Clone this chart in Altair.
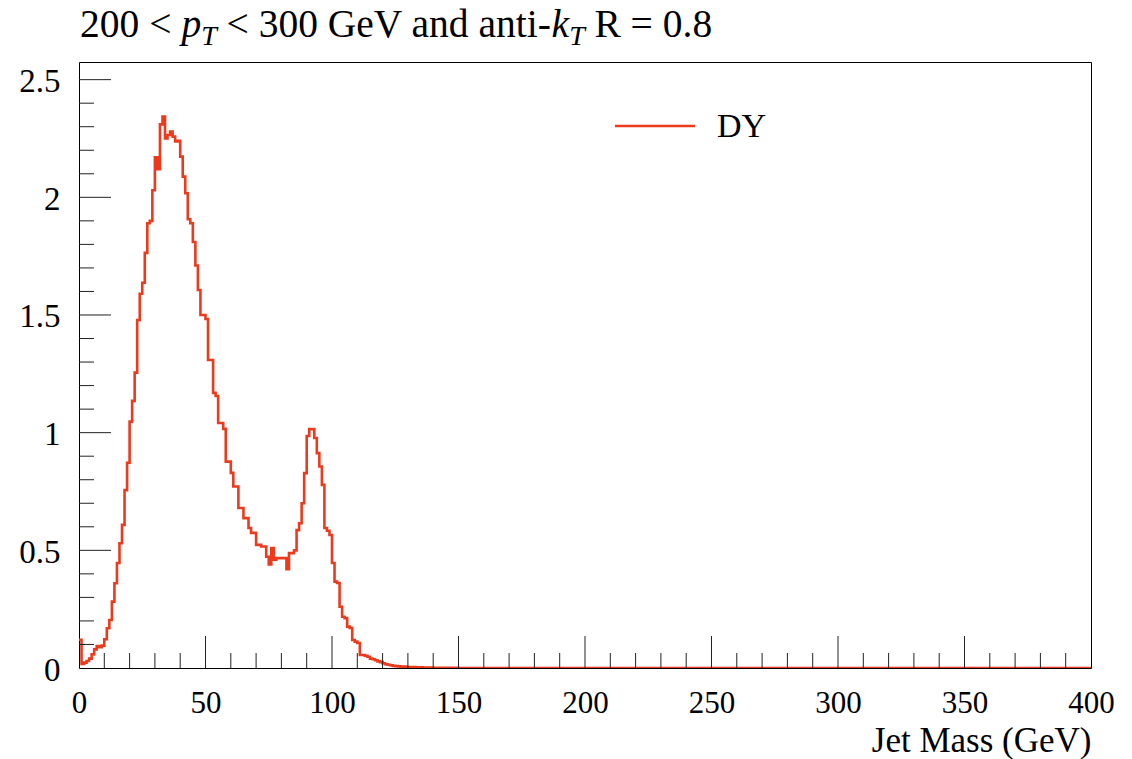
import altair as alt
import pandas as pd

# ---------------- data ----------------
# DY jet-mass histogram, 1 GeV bins starting at 0 GeV
dy_values = [
    0.120, 0.017, 0.023, 0.030, 0.040, 0.058, 0.079, 0.093, 0.088, 0.095,   # 0-9
    0.122, 0.169, 0.204, 0.282, 0.360, 0.446, 0.530, 0.608, 0.756, 0.872,   # 10-19
    1.047, 1.135, 1.255, 1.479, 1.590, 1.637, 1.764, 1.890, 1.900, 2.030,   # 20-29
    2.170, 2.120, 2.310, 2.343, 2.250, 2.265, 2.280, 2.258, 2.237, 2.240,   # 30-39
    2.173, 2.088, 2.017, 1.907, 1.890, 1.810, 1.710, 1.606, 1.500, 1.500,   # 40-49
    1.483, 1.309, 1.309, 1.169, 1.156, 1.041, 1.041, 1.016, 0.877, 0.877,   # 50-59
    0.829, 0.771, 0.771, 0.680, 0.680, 0.637, 0.637, 0.595, 0.574, 0.574,   # 60-69
    0.523, 0.523, 0.516, 0.516, 0.473, 0.440, 0.510, 0.460, 0.467, 0.467,   # 70-79
    0.467, 0.467, 0.420, 0.488, 0.488, 0.500, 0.586, 0.615, 0.700, 0.828,   # 80-89
    0.986, 1.015, 1.015, 0.977, 0.913, 0.856, 0.778, 0.595, 0.583, 0.565,   # 90-99
    0.446, 0.367, 0.361, 0.260, 0.218, 0.212, 0.176, 0.170, 0.119, 0.112,   # 100-109
    0.106, 0.055, 0.055, 0.052, 0.048, 0.040, 0.037, 0.033, 0.028, 0.025,   # 110-119
    0.020, 0.016, 0.014, 0.012, 0.009, 0.008, 0.007, 0.006, 0.006, 0.005,   # 120-129
    0.004, 0.004, 0.004, 0.003, 0.003, 0.003, 0.002, 0.002, 0.002, 0.002,   # 130-139
    0.001, 0.001, 0.001, 0.001, 0.001, 0.001, 0.001, 0.001, 0.001, 0.001,   # 140-149
]
bin_lo = list(range(len(dy_values)))          # lower bin edges (GeV)
tail_x = [150, 400]                           # empty bins to the end of the range
tail_y = [0.0, 0.0]

x_labels = [0, 50, 100, 150, 200, 250, 300, 350, 400]
x_major = [50, 100, 150, 200, 250, 300, 350]
x_minor = [10, 20, 30, 40, 60, 70, 80, 90, 110, 120, 130, 140, 160, 170, 180, 190,
           210, 220, 230, 240, 260, 270, 280, 290, 310, 320, 330, 340, 360, 370, 380, 390]
y_labels = [0, 0.5, 1.0, 1.5, 2.0, 2.5]
y_major = [0.5, 1.0, 1.5, 2.0, 2.5]
y_minor = [0.1, 0.2, 0.3, 0.4, 0.6, 0.7, 0.8, 0.9, 1.1, 1.2, 1.3, 1.4,
           1.6, 1.7, 1.8, 1.9, 2.1, 2.2, 2.3, 2.4]

title_parts = ["200 <", "p", "T", "< 300 GeV and anti-", "k", "T", "R = 0.8"]
legend_label = "DY"
x_title = "Jet Mass (GeV)"

# ---------------- layout / style ----------------
W, H = 1012, 606
FONT = "Liberation Serif"
RED = "#EE3A1C"
title_style = [  # (x, y, size, style) per title part, relative to plot origin
    (1, -25, 39.5, "normal"),
    (102.5, -25, 39.5, "italic"),
    (122.3, -17, 28, "italic"),
    (147.5, -25, 39.5, "normal"),
    (472.6, -25, 39.5, "italic"),
    (490.2, -17, 28, "italic"),
    (515.4, -25, 39.5, "normal"),
]

xs = alt.Scale(domain=[0, 400], nice=False, zero=False)
ys = alt.Scale(domain=[0, 2.575], nice=False, zero=False)

X_AXIS = alt.Axis(
    values=x_labels, format="d", ticks=False, tickSize=0, domain=False, grid=False,
    labelFont=FONT, labelFontSize=31, labelColor="black", labelPadding=20,
    labelFlush=False, labelOverlap=False,
    title=x_title, titleFont=FONT, titleFontSize=35, titleFontWeight="normal",
    titleColor="black", titleX=W, titleY=83, titleAlign="right",
    titleBaseline="alphabetic", titleAnchor="end")
Y_AXIS = alt.Axis(
    values=y_labels, format="~g", ticks=False, tickSize=0, domain=False, grid=False,
    labelFont=FONT, labelFontSize=33, labelColor="black", labelPadding=19,
    labelAlign="right", labelBaseline="alphabetic", labelOffset=12,
    labelFlush=False, labelOverlap=False, title="")

hist = pd.DataFrame({"mass": bin_lo + tail_x, "val": dy_values + tail_y})

line = alt.Chart(hist).mark_line(
    interpolate="step-after", color=RED, strokeWidth=2.6, clip=True
).encode(
    x=alt.X("mass:Q", scale=xs, axis=X_AXIS),
    y=alt.Y("val:Q", scale=ys, axis=Y_AXIS),
)

def xticks(vals, length):
    return alt.Chart(pd.DataFrame({"mass": vals})).mark_rule(color="#222", strokeWidth=1).encode(
        x=alt.X("mass:Q", scale=xs, axis=X_AXIS), y=alt.value(H), y2=alt.value(H - length))

def yticks(vals, length):
    return alt.Chart(pd.DataFrame({"val": vals})).mark_rule(color="#222", strokeWidth=1).encode(
        y=alt.Y("val:Q", scale=ys, axis=Y_AXIS), x=alt.value(0), x2=alt.value(length))

layers = [line, xticks(x_major, 32), xticks(x_minor, 15), yticks(y_major, 32), yticks(y_minor, 15)]

one = pd.DataFrame({"k": [0]})
for txt, (tx, ty, tsz, tst) in zip(title_parts, title_style):
    layers.append(alt.Chart(one).mark_text(
        align="left", baseline="alphabetic", font=FONT, fontSize=tsz, fontStyle=tst,
        color="black", text=txt).encode(x=alt.value(tx), y=alt.value(ty)))

layers.append(alt.Chart(one).mark_rule(color=RED, strokeWidth=2.6).encode(
    x=alt.value(536), x2=alt.value(616), y=alt.value(64)))
layers.append(alt.Chart(one).mark_text(
    align="left", baseline="alphabetic", font=FONT, fontSize=34, color="black",
    text=legend_label).encode(x=alt.value(638), y=alt.value(75)))

chart = alt.layer(*layers).properties(
    width=W, height=H,
    autosize=alt.AutoSizeParams(type="none"),
    padding={"left": 79, "top": 62, "right": 41, "bottom": 91},
).configure_view(stroke="black", strokeWidth=1)

chart.save("out.html", embed_options={"renderer": "svg", "actions": False})
